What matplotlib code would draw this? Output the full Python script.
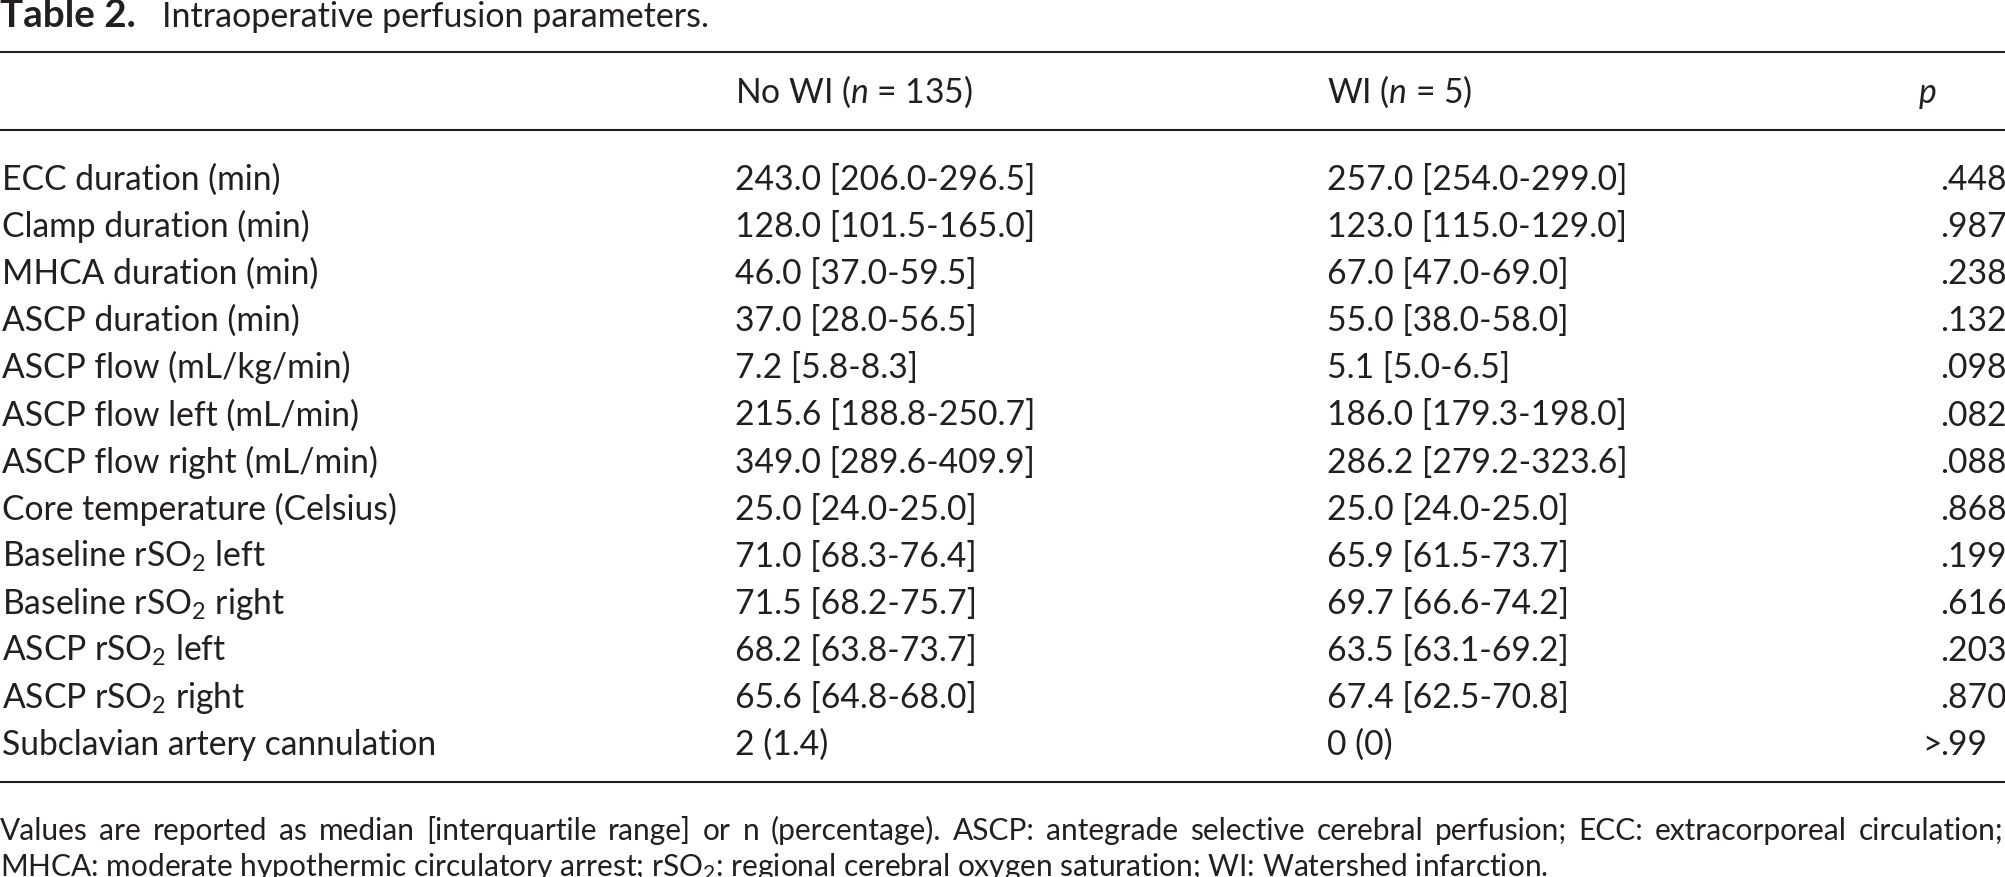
import matplotlib
matplotlib.use("Agg")
import matplotlib.pyplot as plt

plt.rcParams['font.family'] = ['Lato', 'DejaVu Sans']
plt.rcParams['mathtext.fontset'] = 'custom'
plt.rcParams['mathtext.rm'] = 'Lato'
plt.rcParams['mathtext.it'] = 'Lato:italic'
plt.rcParams['mathtext.bf'] = 'Lato:bold'

# ---------------- data ----------------
title_bold = "Table 2."
title_rest = "Intraoperative perfusion parameters."
col_headers = ["No WI ($n$ = 135)", "WI ($n$ = 5)", "$p$"]
row_labels = [
    "ECC duration (min)",
    "Clamp duration (min)",
    "MHCA duration (min)",
    "ASCP duration (min)",
    "ASCP flow (mL/kg/min)",
    "ASCP flow left (mL/min)",
    "ASCP flow right (mL/min)",
    "Core temperature (Celsius)",
    "Baseline rSO$_2$ left",
    "Baseline rSO$_2$ right",
    "ASCP rSO$_2$ left",
    "ASCP rSO$_2$ right",
    "Subclavian artery cannulation",
]
no_wi = [
    "243.0 [206.0-296.5]",
    "128.0 [101.5-165.0]",
    "46.0 [37.0-59.5]",
    "37.0 [28.0-56.5]",
    "7.2 [5.8-8.3]",
    "215.6 [188.8-250.7]",
    "349.0 [289.6-409.9]",
    "25.0 [24.0-25.0]",
    "71.0 [68.3-76.4]",
    "71.5 [68.2-75.7]",
    "68.2 [63.8-73.7]",
    "65.6 [64.8-68.0]",
    "2 (1.4)",
]
wi = [
    "257.0 [254.0-299.0]",
    "123.0 [115.0-129.0]",
    "67.0 [47.0-69.0]",
    "55.0 [38.0-58.0]",
    "5.1 [5.0-6.5]",
    "186.0 [179.3-198.0]",
    "286.2 [279.2-323.6]",
    "25.0 [24.0-25.0]",
    "65.9 [61.5-73.7]",
    "69.7 [66.6-74.2]",
    "63.5 [63.1-69.2]",
    "67.4 [62.5-70.8]",
    "0 (0)",
]
p_values = [".448", ".987", ".238", ".132", ".098", ".082", ".088",
            ".868", ".199", ".616", ".203", ".870", ">.99"]
footnote_line1 = ("Values are reported as median [interquartile range] or n (percentage). "
                  "ASCP: antegrade selective cerebral perfusion; ECC: extracorporeal circulation;")
footnote_line2 = ("MHCA: moderate hypothermic circulatory arrest; rSO$_2$: regional cerebral "
                  "oxygen saturation; WI: Watershed infarction.")

# ---------------- layout ----------------
W, H = 2005, 877
fig = plt.figure(figsize=(W / 100, H / 100), dpi=100)
ax = fig.add_axes([0, 0, 1, 1])
ax.set_xlim(0, W)
ax.set_ylim(H, 0)
ax.axis('off')
fig.canvas.draw()
renderer = fig.canvas.get_renderer()


def text_width(s, size, **kw):
    t = ax.text(0, 0, s, fontsize=size, **kw)
    w = t.get_window_extent(renderer=renderer).width
    t.remove()
    return w


def fit_size(s, target, **kw):
    return 20 * target / text_width(s, 20, **kw)


TXT = '#231f20'
FS = fit_size("Subclavian artery cannulation", 436)
FS_T = fit_size(title_rest, 548)
FS_TB = fit_size(title_bold, 136, fontweight='bold')
FS_F = fit_size(footnote_line2, 1550)

x_cols = [2, 735, 1327]
x_pdec = 1940
y_first = 190
dy = 47.1

# title
ax.text(0, 27, title_bold, fontsize=FS_TB, fontweight='bold', color=TXT, va='baseline')
ax.text(162, 27, title_rest, fontsize=FS_T, color=TXT, va='baseline')

# rules
for yr in (52, 130, 782):
    ax.plot([0, W], [yr, yr], color='#231f20', lw=1.5, solid_capstyle='butt')

# header
ax.text(x_cols[1], 103, col_headers[0], fontsize=FS, color=TXT, va='baseline')
ax.text(x_cols[2], 103, col_headers[1], fontsize=FS, color=TXT, va='baseline')
ax.text(1918, 103, col_headers[2], fontsize=FS, color=TXT, va='baseline')

# body
for i, (lab, a, b, p) in enumerate(zip(row_labels, no_wi, wi, p_values)):
    y = y_first + dy * i
    ax.text(x_cols[0], y, lab, fontsize=FS, color=TXT, va='baseline')
    ax.text(x_cols[1], y, a, fontsize=FS, color=TXT, va='baseline')
    ax.text(x_cols[2], y, b, fontsize=FS, color=TXT, va='baseline')
    if p.startswith('>'):
        ax.text(x_pdec + 2, y, '>', fontsize=FS, color=TXT, va='baseline', ha='right')
        ax.text(x_pdec, y, p[1:], fontsize=FS, color=TXT, va='baseline')
    else:
        ax.text(x_pdec, y, p, fontsize=FS, color=TXT, va='baseline')

# footnote line 1 (justified to full width)
words = footnote_line1.split(' ')
y1 = 840
tmp = []
widths = []
for w_ in words:
    t = ax.text(0, y1, w_, fontsize=FS_F, color=TXT, va='baseline')
    widths.append(t.get_window_extent(renderer=renderer).width)
    tmp.append(t)
gap = (W - 2 - sum(widths)) / (len(words) - 1)
x = 0.0
for t, wdt in zip(tmp, widths):
    t.set_x(x)
    x += wdt + gap

ax.text(0, 876, footnote_line2, fontsize=FS_F, color=TXT, va='baseline')

fig.savefig('out.png', dpi=100)
